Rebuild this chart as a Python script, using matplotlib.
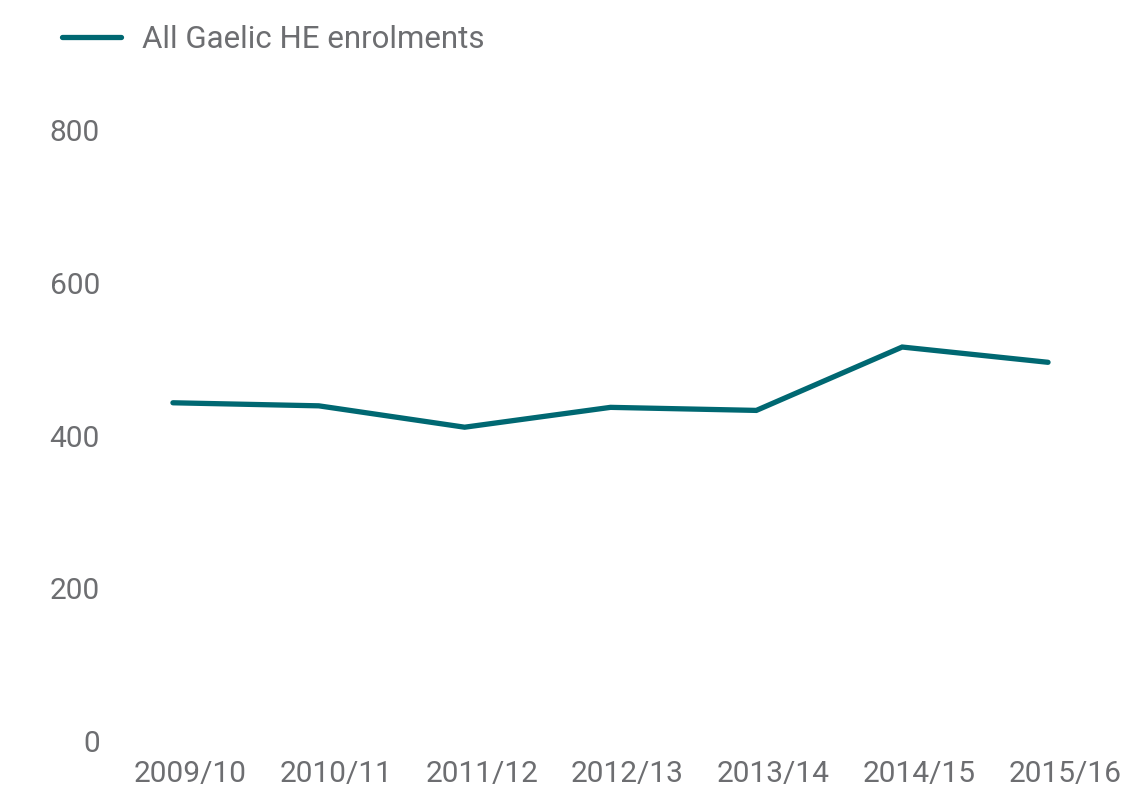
import matplotlib
matplotlib.use("Agg")
import matplotlib.pyplot as plt
import matplotlib.transforms as mtransforms

plt.rcParams['font.family'] = ['Roboto', 'DejaVu Sans']

# data
years = ["2009/10", "2010/11", "2011/12", "2012/13", "2013/14", "2014/15", "2015/16"]
enrolments = [443, 439, 411, 437, 433, 516, 496]
yticks = [0, 200, 400, 600, 800]

teal = "#006872"
grey = "#6d6e71"

fig = plt.figure(figsize=(11.3, 7.89), dpi=100)
ax = fig.add_axes([0.0885, 0.0608, 0.9035, 0.7742])

x = list(range(len(years)))
ax.plot(x, enrolments, color=teal, linewidth=3.8, solid_capstyle='round',
        solid_joinstyle='miter', label="All Gaelic HE enrolments")

ax.set_xlim(-0.5, len(years) - 0.5)
ax.set_ylim(0, 800)
ax.set_yticks(yticks)
ax.set_xticks(x)
ax.set_xticklabels(years)

for s in ax.spines.values():
    s.set_visible(False)
ax.tick_params(axis='both', length=0, labelsize=21.5, labelcolor=grey)
ax.tick_params(axis='y', pad=0)
ax.tick_params(axis='x', pad=14)

# x labels sit a bit right of the data points in the original
shift = mtransforms.ScaledTranslation(0.17, 0, fig.dpi_scale_trans)
for lbl in ax.get_xticklabels():
    lbl.set_transform(lbl.get_transform() + shift)

leg = fig.legend(loc='upper left', bbox_to_anchor=(62 / 1130, 0.968),
                 frameon=False, fontsize=22.5, handlelength=1.9,
                 handletextpad=0.65, borderpad=0, borderaxespad=0)
for t in leg.get_texts():
    t.set_color(grey)

fig.savefig("out.png", dpi=100)
